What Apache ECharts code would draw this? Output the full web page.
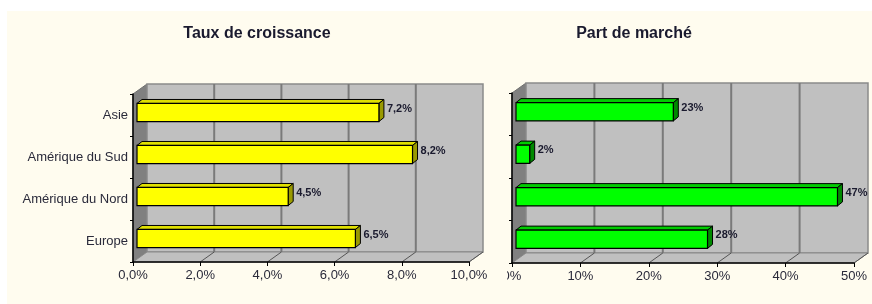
<!DOCTYPE html>
<html>
<head>
<meta charset="utf-8">
<script src="https://cdn.jsdelivr.net/npm/echarts@6/dist/echarts.min.js"></script>
<style>
  html, body { margin: 0; padding: 0; background: #fff; }
  #chart { width: 872px; height: 304px; }
</style>
</head>
<body>
<div id="chart"></div>
<script>
// données
const categories = ['Europe', 'Amérique du Nord', 'Amérique du Sud', 'Asie'];
const croissance = [6.5, 4.5, 8.2, 7.2];
const partMarche = [28, 47, 2, 23];
const croissanceTicks = [0, 2, 4, 6, 8, 10];
const partTicks = [0, 10, 20, 30, 40, 50];

const DX = 14, DY = 10; // profondeur des murs 3D
const fmtPct1 = v => v.toFixed(1).replace('.', ',') + '%';
const fmtPct0 = v => v + '%';

let chart = echarts.init(document.getElementById('chart'));

// murs : fond, côté gauche, sol + lignes de grille
function walls(ticks) {
  return function (params, api) {
    const cs = params.coordSys;
    const x0 = cs.x, y0 = cs.y, x1 = cs.x + cs.width, y1 = cs.y + cs.height;
    const kids = [
      { type: 'polygon', shape: { points: [[x0, y0], [x0 + DX, y0 - DY], [x0 + DX, y1 - DY], [x0, y1]] },
        style: { fill: '#808080', stroke: '#707070', lineWidth: 1 } },
      { type: 'rect', shape: { x: x0 + DX, y: y0 - DY, width: x1 - x0, height: y1 - y0 },
        style: { fill: '#c0c0c0', stroke: '#8a8a8a', lineWidth: 1.5 } },
      { type: 'polygon', shape: { points: [[x0, y1], [x1, y1], [x1 + DX, y1 - DY], [x0 + DX, y1 - DY]] },
        style: { fill: '#c0c0c0', stroke: '#8a8a8a', lineWidth: 1 } }
    ];
    ticks.forEach(t => {
      const x = api.coord([t, 0])[0];
      if (t !== ticks[0] && t !== ticks[ticks.length - 1]) {
        kids.push({ type: 'line', shape: { x1: x + DX, y1: y0 - DY, x2: x + DX, y2: y1 - DY },
          style: { stroke: '#7a7a7a', lineWidth: 2 } });
      }
      if (t !== ticks[0]) {
        kids.push({ type: 'line', shape: { x1: x, y1: y1, x2: x + DX, y2: y1 - DY },
          style: { stroke: '#555', lineWidth: 1 } });
      }
    });
    return { type: 'group', children: kids };
  };
}

// barre 3D : face avant, dessus, côté droit + étiquette
function bar3d(colors, fmt) {
  return function (params, api) {
    const cat = api.value(1), val = api.value(0);
    const p0 = api.coord([0, cat]);
    const p1 = api.coord([val, cat]);
    const h = api.size([0, 1])[1] * 0.43;
    const bdx = 5, bdy = 4;
    const xl = p0[0] + 4, xr = p1[0] + 4;
    const yc = p0[1] - 2.5, yt = yc - h / 2, yb = yc + h / 2;
    return {
      type: 'group',
      children: [
        { type: 'polygon', shape: { points: [[xl, yt], [xr, yt], [xr + bdx, yt - bdy], [xl + bdx, yt - bdy]] },
          style: { fill: colors[1], stroke: '#000', lineWidth: 1 } },
        { type: 'polygon', shape: { points: [[xr, yt], [xr + bdx, yt - bdy], [xr + bdx, yb - bdy], [xr, yb]] },
          style: { fill: colors[2], stroke: '#000', lineWidth: 1 } },
        { type: 'rect', shape: { x: xl, y: yt, width: xr - xl, height: h },
          style: { fill: colors[0], stroke: '#000', lineWidth: 1.2 } },
        { type: 'text', x: xr + bdx + 3, y: yc - 4,
          style: { text: fmt(val), fill: '#1a1a2e', font: 'bold 11px "Liberation Sans", Arial, sans-serif',
            verticalAlign: 'middle', align: 'left' } }
      ]
    };
  };
}

const axisLabelStyle = { color: '#2a2a3a', fontSize: 13, fontFamily: '"Liberation Sans", Arial, sans-serif' };

chart.setOption({
  backgroundColor: '#ffffff',
  animation: false,
  title: [
    { text: 'Taux de croissance', left: 252, top: 21, textAlign: 'center',
      textStyle: { fontSize: 16, fontWeight: 'bold', color: '#1a1a2e', fontFamily: '"Liberation Sans", Arial, sans-serif' } },
    { text: 'Part de marché', left: 629, top: 21, textAlign: 'center',
      textStyle: { fontSize: 16, fontWeight: 'bold', color: '#1a1a2e', fontFamily: '"Liberation Sans", Arial, sans-serif' } }
  ],
  graphic: [
    { type: 'rect', z: -100, shape: { x: 7, y: 11, width: 865, height: 293 }, style: { fill: '#fffcef' } },
    // le libellé 0% est rogné à gauche dans l'original
    { type: 'rect', z: 100, shape: { x: 492, y: 266, width: 15, height: 24 }, style: { fill: '#fffcef' } }
  ],
  grid: [
    { left: 133, top: 94, width: 336, height: 168 },
    { left: 512, top: 93, width: 342, height: 170 }
  ],
  xAxis: [
    { gridIndex: 0, type: 'value', min: 0, max: 10, interval: 2,
      splitLine: { show: false },
      axisLine: { show: true, lineStyle: { color: '#000', width: 1.5 } },
      axisTick: { show: true, length: 4, lineStyle: { color: '#000' } },
      axisLabel: Object.assign({ formatter: fmtPct1, margin: 7 }, axisLabelStyle) },
    { gridIndex: 1, type: 'value', min: 0, max: 50, interval: 10,
      splitLine: { show: false },
      axisLine: { show: true, lineStyle: { color: '#000', width: 1.5 } },
      axisTick: { show: true, length: 4, lineStyle: { color: '#000' } },
      axisLabel: Object.assign({ formatter: fmtPct0, margin: 7 }, axisLabelStyle) }
  ],
  yAxis: [
    { gridIndex: 0, type: 'category', data: categories,
      axisLine: { show: true, lineStyle: { color: '#000', width: 1.5 } },
      axisTick: { show: true, length: 3, lineStyle: { color: '#000' } },
      axisLabel: Object.assign({ margin: 5 }, axisLabelStyle) },
    { gridIndex: 1, type: 'category', data: categories,
      axisLine: { show: true, lineStyle: { color: '#000', width: 1.5 } },
      axisTick: { show: true, length: 3, lineStyle: { color: '#000' } },
      axisLabel: { show: false } }
  ],
  series: [
    { type: 'custom', xAxisIndex: 0, yAxisIndex: 0, z: -1, silent: true,
      renderItem: walls(croissanceTicks), data: [[0, 0]] },
    { type: 'custom', xAxisIndex: 1, yAxisIndex: 1, z: -1, silent: true,
      renderItem: walls(partTicks), data: [[0, 0]] },
    { type: 'custom', name: 'Taux de croissance', xAxisIndex: 0, yAxisIndex: 0, z: 3,
      renderItem: bar3d(['#ffff00', '#e0e000', '#9a9a00'], fmtPct1),
      encode: { x: 0, y: 1 },
      data: croissance.map((v, i) => [v, i]) },
    { type: 'custom', name: 'Part de marché', xAxisIndex: 1, yAxisIndex: 1, z: 3,
      renderItem: bar3d(['#00ff00', '#00cc00', '#008a00'], fmtPct0),
      encode: { x: 0, y: 1 },
      data: partMarche.map((v, i) => [v, i]) }
  ]
});
</script>
</body>
</html>
